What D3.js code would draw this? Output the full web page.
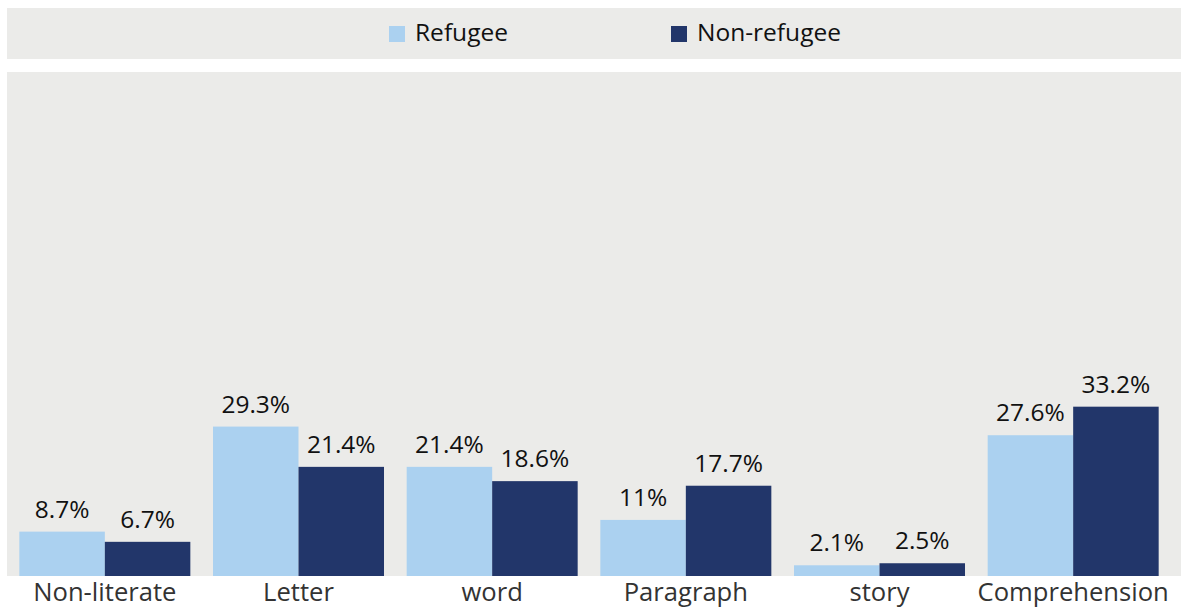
<!DOCTYPE html>
<html>
<head>
<meta charset="utf-8">
<script src="https://cdn.jsdelivr.net/npm/d3@7"></script>
<style>
  body { margin: 0; background: #fff; }
  svg { display: block; font-family: "Open Sans", sans-serif; }
</style>
</head>
<body>
<svg width="1181" height="610"></svg>
<script>
const categories = ["Non-literate", "Letter", "word", "Paragraph", "story", "Comprehension"];
const seriesNames = ["Refugee", "Non-refugee"];
const refugee = [8.7, 29.3, 21.4, 11, 2.1, 27.6];
const nonRefugee = [6.7, 21.4, 18.6, 17.7, 2.5, 33.2];
const colors = ["#abd1f0", "#22366a"];

const svg = d3.select("svg");

// legend band
svg.append("rect")
    .attr("x", 7).attr("y", 8)
    .attr("width", 1174).attr("height", 51)
    .attr("fill", "#ebebe9");

// plot background
svg.append("rect")
    .attr("x", 7).attr("y", 72)
    .attr("width", 1174).attr("height", 504)
    .attr("fill", "#ebebe9");

const legendX = [389, 671];
seriesNames.forEach((name, i) => {
    svg.append("rect")
        .attr("x", legendX[i]).attr("y", 26)
        .attr("width", 16).attr("height", 16)
        .attr("fill", colors[i]);
    svg.append("text")
        .attr("x", legendX[i] + 26).attr("y", 41)
        .attr("font-size", 24.5)
        .attr("fill", "#111")
        .text(name);
});

const x = d3.scaleBand()
    .domain(categories)
    .range([8, 1170])
    .paddingInner(0.117)
    .paddingOuter(0.0585);

const sub = d3.scaleBand()
    .domain(seriesNames)
    .range([0, x.bandwidth()]);

const y = d3.scaleLinear()
    .domain([0, 100])
    .range([576, 66]);

const data = categories.map((c, i) => ({
    cat: c,
    values: [
        { key: seriesNames[0], v: refugee[i], c: colors[0] },
        { key: seriesNames[1], v: nonRefugee[i], c: colors[1] }
    ]
}));

const groups = svg.append("g").selectAll("g")
    .data(data)
    .join("g")
    .attr("transform", d => `translate(${x(d.cat)},0)`);

groups.selectAll("rect")
    .data(d => d.values)
    .join("rect")
    .attr("x", d => sub(d.key))
    .attr("y", d => y(d.v))
    .attr("width", sub.bandwidth())
    .attr("height", d => y(0) - y(d.v))
    .attr("fill", d => d.c);

groups.selectAll("text")
    .data(d => d.values)
    .join("text")
    .attr("x", d => sub(d.key) + sub.bandwidth() / 2)
    .attr("y", d => y(d.v) - 14)
    .attr("text-anchor", "middle")
    .attr("font-size", 24.5)
    .attr("fill", "#111")
    .text(d => d.v + "%");

// category axis
const xAxis = svg.append("g")
    .attr("transform", "translate(0,576)")
    .call(d3.axisBottom(x).tickSize(0));
xAxis.select(".domain").remove();
xAxis.selectAll("text")
    .attr("y", 25)
    .attr("dy", null)
    .attr("font-size", 25.6)
    .attr("font-family", "'Open Sans', sans-serif")
    .attr("fill", "#333");
</script>
</body>
</html>
